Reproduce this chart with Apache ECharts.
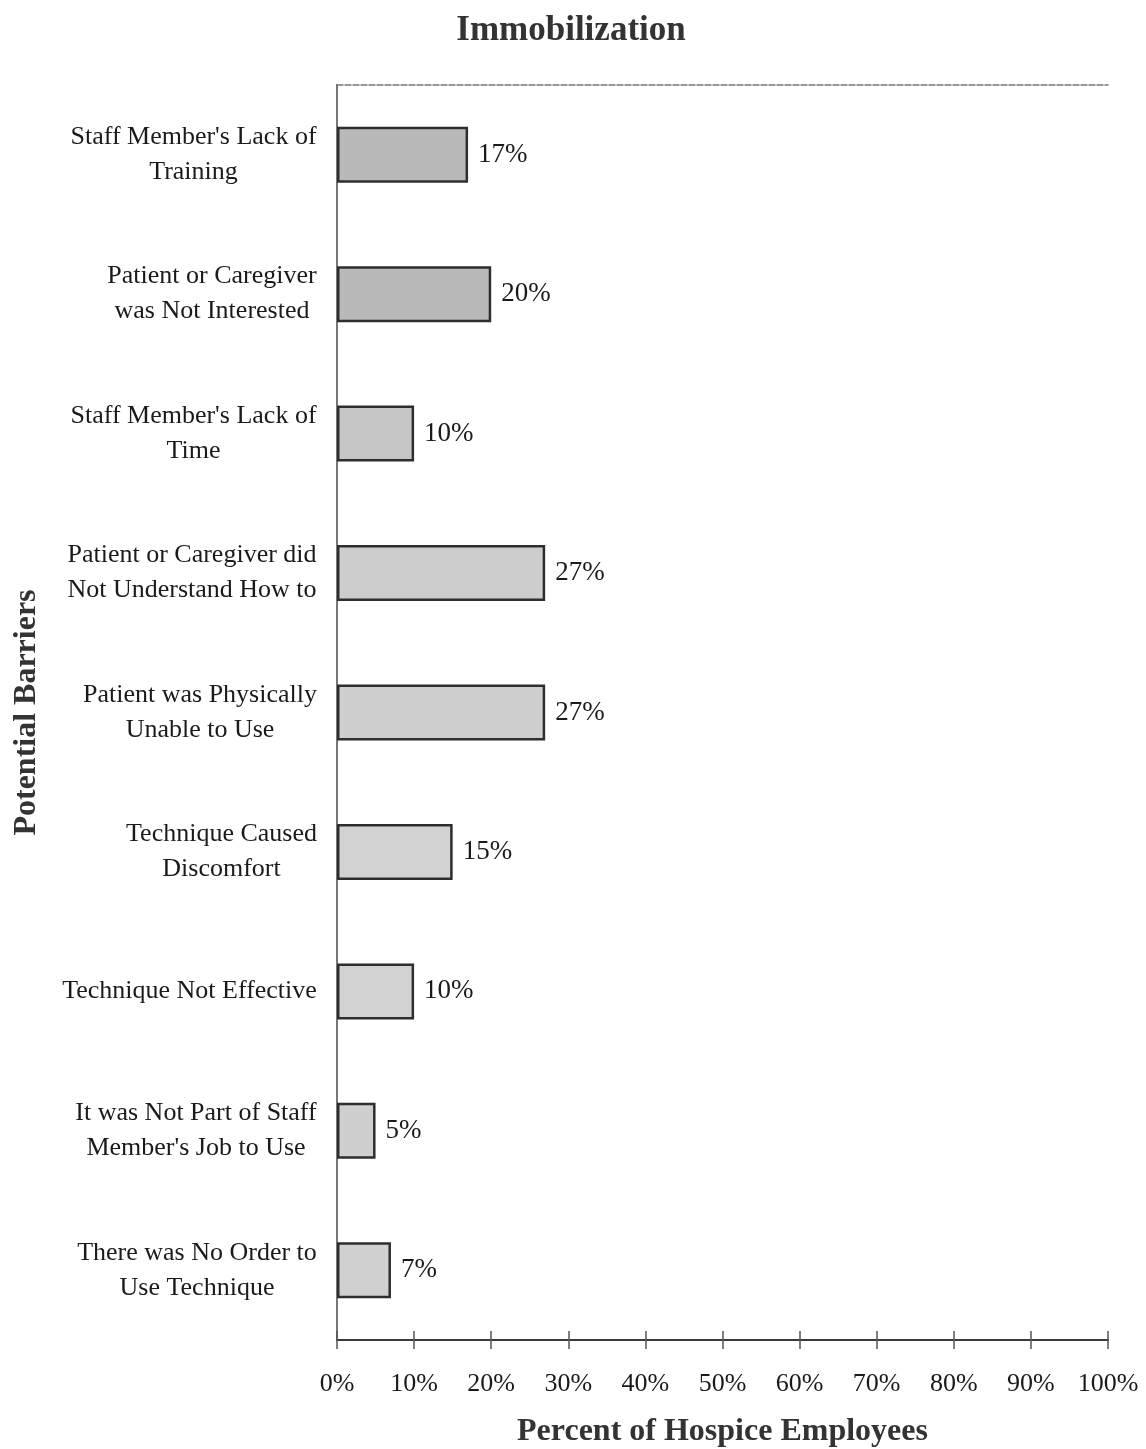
<!DOCTYPE html>
<html>
<head>
<meta charset="utf-8">
<title>Immobilization</title>
<script src="https://cdn.jsdelivr.net/npm/echarts@6/dist/echarts.min.js"></script>
<style>
  html, body { margin: 0; padding: 0; background: #fff; }
  #chart { width: 1146px; height: 1449px; }
</style>
</head>
<body>
<div id="chart"></div>
<script>
// Barriers reported for the immobilization technique (top to bottom)
const barriers = [
  "Staff Member's Lack of\nTraining",
  "Patient or Caregiver\nwas Not Interested",
  "Staff Member's Lack of\nTime",
  "Patient or Caregiver did\nNot Understand How to",
  "Patient was Physically\nUnable to Use",
  "Technique Caused\nDiscomfort",
  "Technique Not Effective",
  "It was Not Part of Staff\nMember's Job to Use",
  "There was No Order to\nUse Technique"
];
const percents = [17, 20, 10, 27, 27, 15, 10, 5, 7];
const tickValues = [0, 10, 20, 30, 40, 50, 60, 70, 80, 90, 100];

// Grey fill per bar (upper bars print slightly darker)
const barFills = ['#b9b9b9', '#b9b9b9', '#c6c6c6', '#cdcdcd', '#cfcfcf', '#d2d2d2', '#d2d2d2', '#cfcfcf', '#d0d0d0'];

const serif = '"Liberation Serif", "DejaVu Serif", serif';
const labelSize = 26;

// Each category label is a block whose lines are centred on each other;
// measure the widest line so the rich-text box can centre them.
const ctx = document.createElement('canvas').getContext('2d');
ctx.font = labelSize + 'px ' + serif;
const rich = {};
barriers.forEach((b, i) => {
  const w = Math.max(...b.split('\n').map(s => ctx.measureText(s).width));
  rich['r' + i] = {
    width: Math.ceil(w) + 2,
    align: 'center',
    fontFamily: serif,
    fontSize: labelSize,
    lineHeight: 35,
    color: '#1a1a1a'
  };
});

const chart = echarts.init(document.getElementById('chart'), null, { renderer: 'canvas' });

const axisMax = tickValues[tickValues.length - 1];
const axisStep = tickValues[1] - tickValues[0];

chart.setOption({
  animation: false,
  backgroundColor: '#ffffff',
  title: {
    text: 'Immobilization',
    left: 566,
    top: 8,
    textAlign: 'center',
    textStyle: { fontFamily: serif, fontSize: 35, fontWeight: 'bold', color: '#333' }
  },
  grid: { left: 337, right: 38, top: 85, bottom: 109, containLabel: false, outerBoundsMode: 'none' },
  xAxis: [
    {
      type: 'value', position: 'bottom', min: 0, max: axisMax, interval: axisStep,
      name: 'Percent of Hospice Employees', nameLocation: 'middle', nameGap: 76,
      nameTextStyle: { fontFamily: serif, fontSize: 32, fontWeight: 'bold', color: '#333' },
      axisLine: { show: true, lineStyle: { color: '#3a3a3a', width: 2 } },
      axisTick: { show: true, inside: false, length: 9, lineStyle: { color: '#555', width: 1.5 } },
      axisLabel: {
        margin: 31, fontFamily: serif, fontSize: 26, color: '#1a1a1a',
        formatter: v => v + '%'
      },
      splitLine: { show: false }
    },
    {
      // inner half of the tick marks, so they cross the axis line
      type: 'value', position: 'bottom', min: 0, max: axisMax, interval: axisStep,
      axisLine: { show: false },
      axisTick: { show: true, inside: true, length: 9, lineStyle: { color: '#555', width: 1.5 } },
      axisLabel: { show: false },
      splitLine: { show: false }
    },
    {
      // faint top edge of the frame
      type: 'value', position: 'top', min: 0, max: axisMax,
      axisLine: { show: true, lineStyle: { color: '#777', width: 1.5, type: [6, 2] } },
      axisTick: { show: false },
      axisLabel: { show: false },
      splitLine: { show: false }
    }
  ],
  yAxis: [
    {
      type: 'category', data: barriers, inverse: true,
      name: 'Potential Barriers', nameLocation: 'middle', nameGap: 294,
      nameTextStyle: { fontFamily: serif, fontSize: 32, fontWeight: 'bold', color: '#333' },
      axisLine: { show: true, lineStyle: { color: '#3a3a3a', width: 2 } },
      axisTick: { show: false },
      axisLabel: {
        margin: 19,
        formatter: (v, i) => '{r' + i + '|' + v + '}',
        rich: rich
      },
      splitLine: { show: false }
    },
    {
      // right edge of the frame
      type: 'category', data: barriers, inverse: true, position: 'right',
      axisLine: { show: true, lineStyle: { color: '#777', width: 2 } },
      axisTick: { show: false },
      axisLabel: { show: false },
      splitLine: { show: false }
    }
  ],
  series: [
    {
      type: 'bar',
      xAxisIndex: 0,
      yAxisIndex: 0,
      barWidth: 56,
      data: percents.map((v, i) => ({
        value: v,
        itemStyle: { color: barFills[i] }
      })),
      itemStyle: { borderColor: '#2e2e2e', borderWidth: 2.5 },
      label: {
        show: true,
        position: 'right',
        distance: 10,
        formatter: '{c}%',
        fontFamily: serif,
        fontSize: 27,
        color: '#1a1a1a'
      }
    }
  ]
});
</script>
</body>
</html>
